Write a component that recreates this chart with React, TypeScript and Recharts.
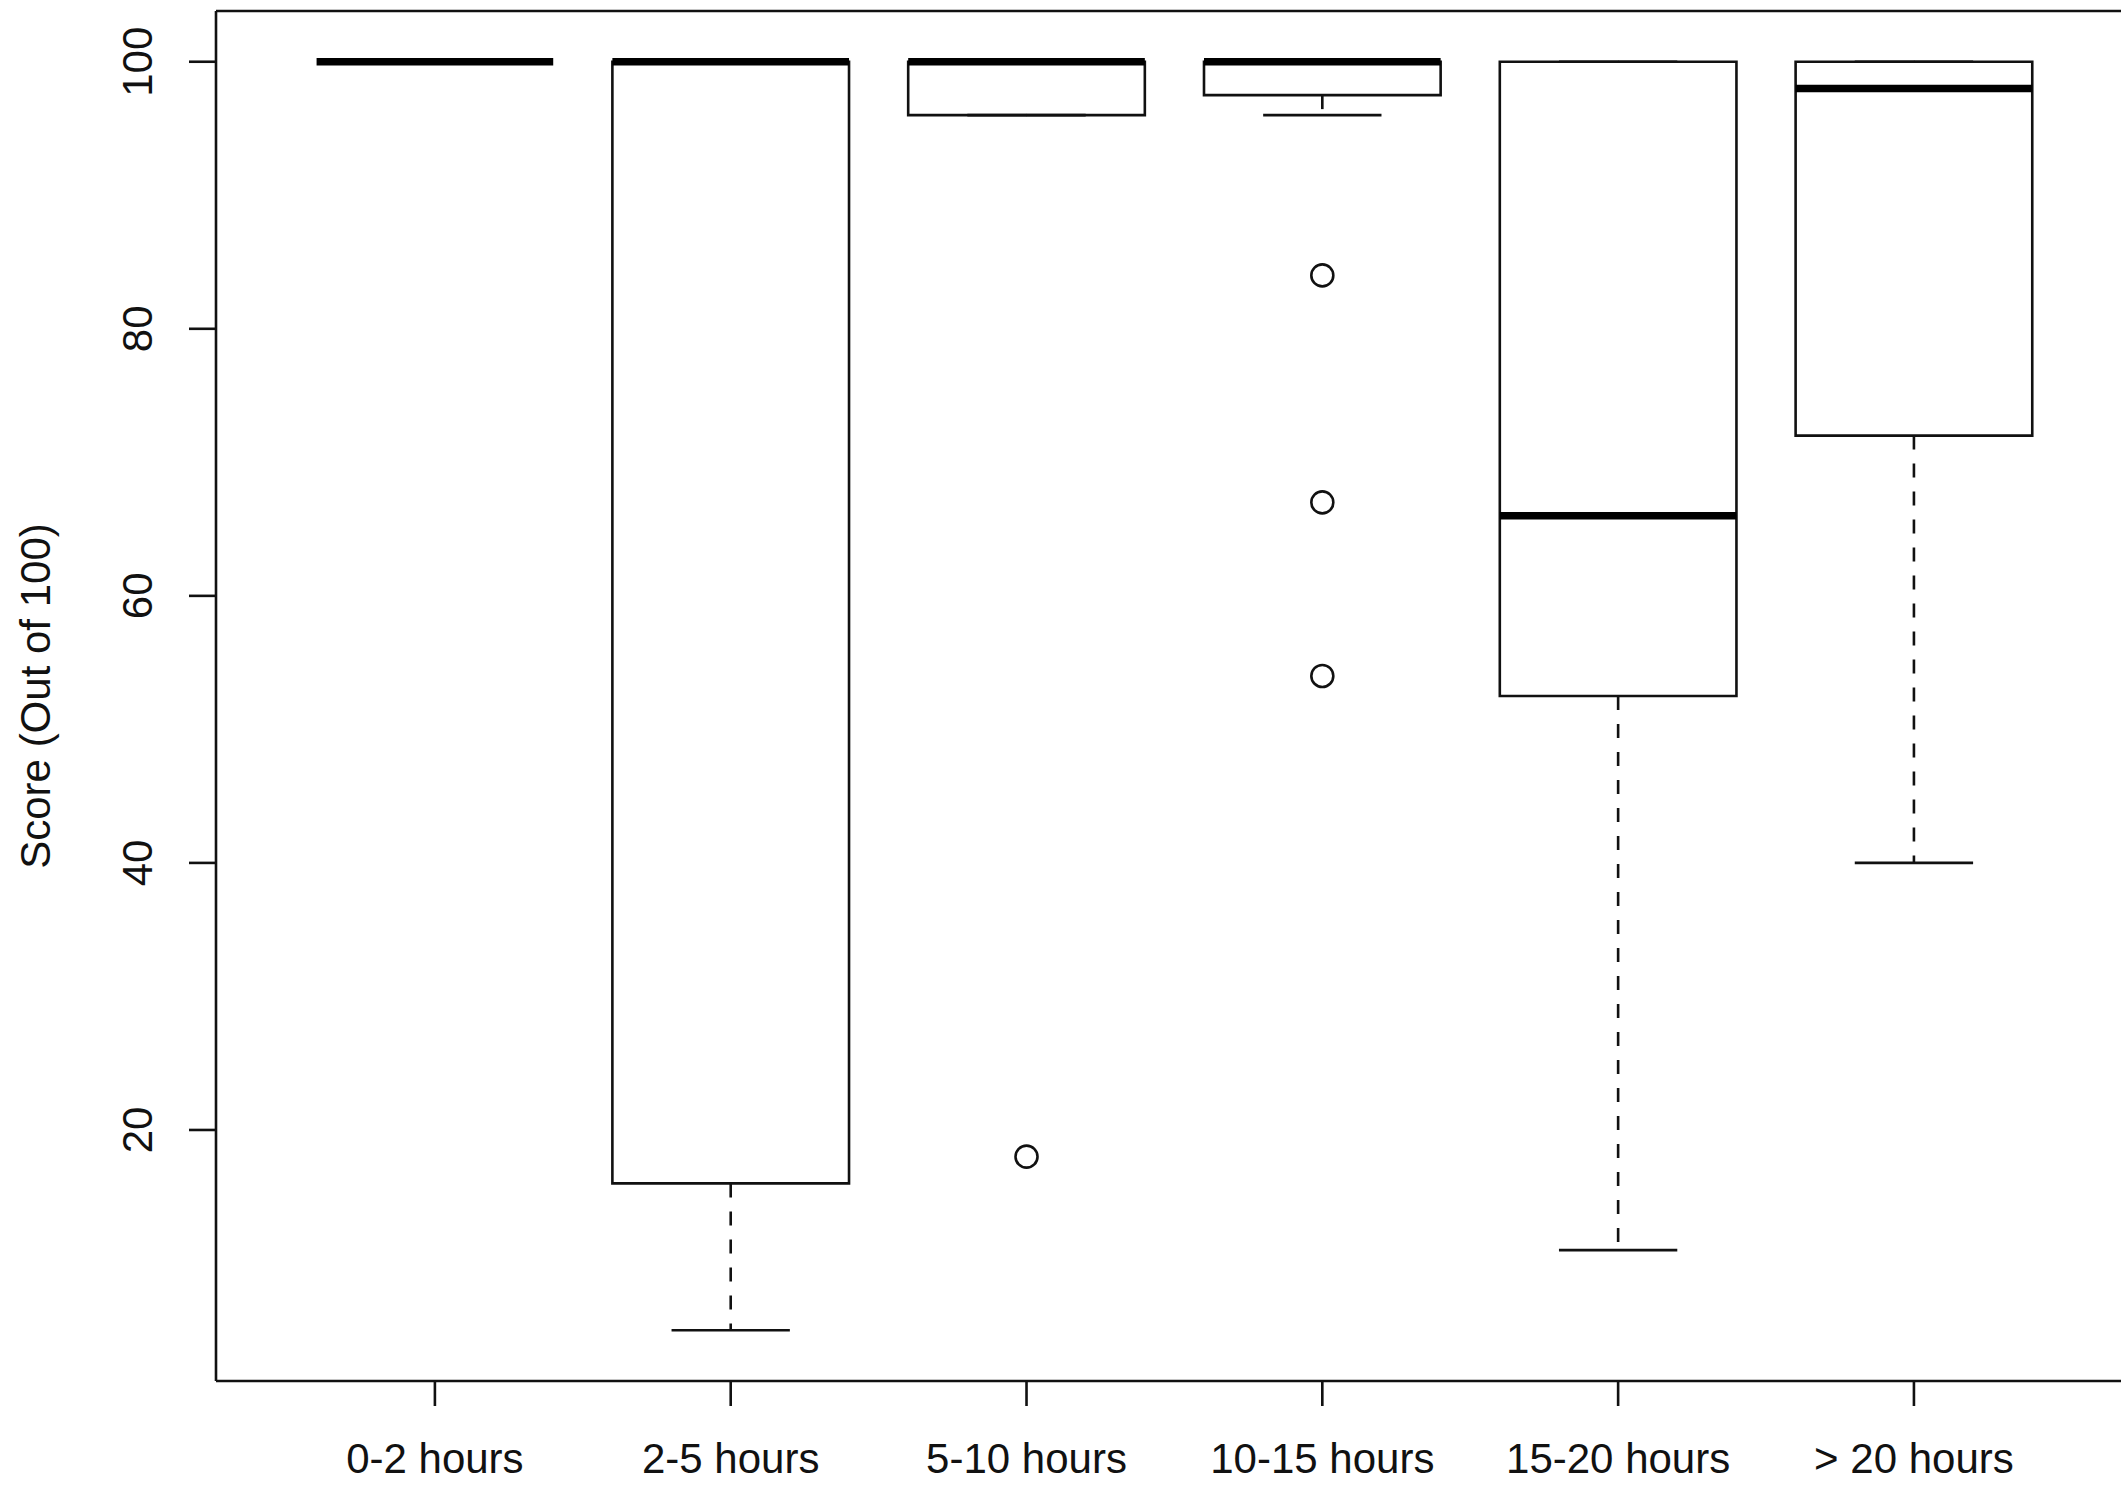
import { ComposedChart, XAxis, YAxis, Scatter, ReferenceArea, ReferenceLine } from 'recharts';

const categories = ['0-2 hours', '2-5 hours', '5-10 hours', '10-15 hours', '15-20 hours', '> 20 hours'];
const lowerWhisker = [100, 5, 96, 96, 11, 40];
const q1 = [100, 16, 96, 97.5, 52.5, 72];
const median = [100, 100, 100, 100, 66, 98];
const q3 = [100, 100, 100, 100, 100, 100];
const upperWhisker = [100, 100, 100, 100, 100, 100];
const outlierGroup = [3, 4, 4, 4];
const outlierValue = [18, 84, 67, 54];
const yTicks = [20, 40, 60, 80, 100];

const xDomain = [0.26, 6.7];
const yDomain = [1.2, 103.8];
const positions = categories.map((_, i) => i + 1);
const outliers = outlierGroup.map((g, i) => ({ pos: g, value: outlierValue[i] }));

const FONT = 'Arial, "Liberation Sans", Helvetica, sans-serif';
const INK = '#111';
const LW = 2.6;

const XTick = (props: any) => {
  const { x, y, payload } = props;
  return (
    <text x={x} y={y} dy="0.71em" textAnchor="middle" fontSize={42} fontFamily={FONT} fill={INK}>
      {categories[payload.value - 1]}
    </text>
  );
};

const YTick = (props: any) => {
  const { x, y, payload } = props;
  return (
    <text
      x={x}
      y={y}
      transform={`rotate(-90 ${x} ${y})`}
      textAnchor="middle"
      dominantBaseline="central"
      fontSize={42}
      fontFamily={FONT}
      fill={INK}
    >
      {payload.value}
    </text>
  );
};

const YTitle = (props: any) => {
  const { viewBox } = props;
  const cx = 35;
  const cy = viewBox.y + viewBox.height / 2;
  return (
    <text
      x={cx}
      y={cy}
      transform={`rotate(-90 ${cx} ${cy})`}
      textAnchor="middle"
      dominantBaseline="central"
      fontSize={42}
      fontFamily={FONT}
      fill={INK}
    >
      Score (Out of 100)
    </text>
  );
};

const Circle = (props: any) => {
  const { cx, cy } = props;
  return <circle cx={cx} cy={cy} r={11} fill="none" stroke={INK} strokeWidth={LW} />;
};

export default function App() {
  return (
    <div style={{ width: 2121, height: 1490, background: '#fff' }}>
      <style>{'html,body{margin:0;overflow:hidden;background:#fff}'}</style>
      <ComposedChart width={2121} height={1490} margin={{ top: 11, right: 0, bottom: 0, left: 0 }}>
        <XAxis
          type="number"
          dataKey="pos"
          domain={xDomain}
          ticks={positions}
          allowDataOverflow
          height={109}
          tickSize={25}
          tickMargin={37}
          tick={<XTick />}
          axisLine={{ stroke: INK, strokeWidth: LW }}
          tickLine={{ stroke: INK, strokeWidth: LW }}
        />
        <YAxis
          type="number"
          dataKey="value"
          domain={yDomain}
          ticks={yTicks}
          allowDataOverflow
          width={216}
          tickSize={27}
          tickMargin={51}
          tick={<YTick />}
          axisLine={{ stroke: INK, strokeWidth: LW }}
          tickLine={{ stroke: INK, strokeWidth: LW }}
          label={<YTitle />}
        />
        <ReferenceLine y={yDomain[1]} stroke={INK} strokeWidth={LW} ifOverflow="visible" />

        {positions.map((p, i) => (
          <ReferenceLine
            key={`lw-${i}`}
            segment={[{ x: p, y: q1[i] }, { x: p, y: lowerWhisker[i] }]}
            stroke={INK}
            strokeWidth={LW}
            strokeDasharray="14 14"
          />
        ))}
        {positions.map((p, i) => (
          <ReferenceLine
            key={`uw-${i}`}
            segment={[{ x: p, y: q3[i] }, { x: p, y: upperWhisker[i] }]}
            stroke={INK}
            strokeWidth={LW}
            strokeDasharray="14 14"
          />
        ))}
        {positions.map((p, i) => (
          <ReferenceLine
            key={`ls-${i}`}
            segment={[{ x: p - 0.2, y: lowerWhisker[i] }, { x: p + 0.2, y: lowerWhisker[i] }]}
            stroke={INK}
            strokeWidth={LW}
          />
        ))}
        {positions.map((p, i) => (
          <ReferenceLine
            key={`us-${i}`}
            segment={[{ x: p - 0.2, y: upperWhisker[i] }, { x: p + 0.2, y: upperWhisker[i] }]}
            stroke={INK}
            strokeWidth={LW}
          />
        ))}
        {positions.map((p, i) => (
          <ReferenceArea
            key={`box-${i}`}
            x1={p - 0.4}
            x2={p + 0.4}
            y1={q1[i]}
            y2={q3[i]}
            fill="#fff"
            fillOpacity={0}
            stroke={INK}
            strokeWidth={LW}
          />
        ))}
        {positions.map((p, i) => (
          <ReferenceLine
            key={`med-${i}`}
            segment={[{ x: p - 0.4, y: median[i] }, { x: p + 0.4, y: median[i] }]}
            stroke="#000"
            strokeWidth={7.5}
          />
        ))}
        <Scatter data={outliers} dataKey="value" shape={<Circle />} isAnimationActive={false} />
      </ComposedChart>
    </div>
  );
}
